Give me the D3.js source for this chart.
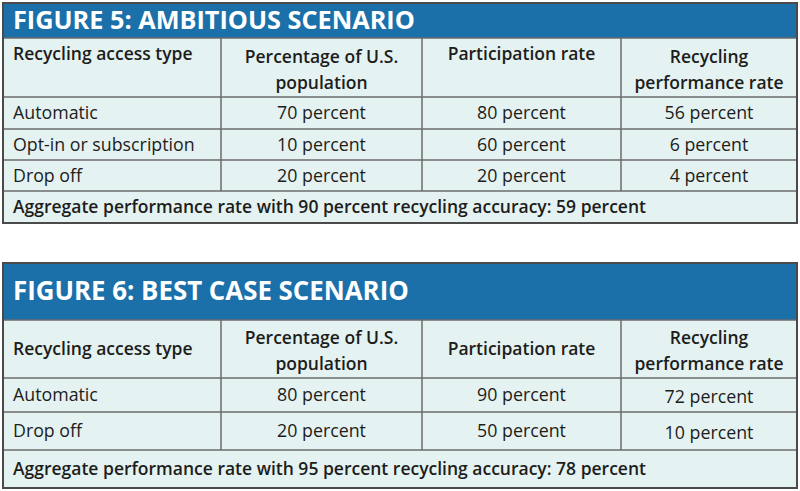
<!DOCTYPE html>
<html>
<head>
<meta charset="utf-8">
<script src="https://cdn.jsdelivr.net/npm/d3@7"></script>
<style>
  body { margin: 0; background: #fff; }
  svg { display: block; }
  text { font-family: "Open Sans", "DejaVu Sans", sans-serif; fill: #1d1d1b; }
</style>
</head>
<body>
<svg width="800" height="491"></svg>
<script>
// column headers (shared by both figures)
const headers = ['Recycling access type', 'Percentage of U.S.|population', 'Participation rate', 'Recycling|performance rate'];

// Figure 5
const fig5Title = 'FIGURE 5: AMBITIOUS SCENARIO';
const fig5Types = ['Automatic', 'Opt-in or subscription', 'Drop off'];
const fig5Population = [70, 10, 20];
const fig5Participation = [80, 60, 20];
const fig5Performance = [56, 6, 4];
const fig5Accuracy = 90;
const fig5Aggregate = 59;

// Figure 6
const fig6Title = 'FIGURE 6: BEST CASE SCENARIO';
const fig6Types = ['Automatic', 'Drop off'];
const fig6Population = [80, 20];
const fig6Participation = [90, 50];
const fig6Performance = [72, 10];
const fig6Accuracy = 95;
const fig6Aggregate = 78;

const BLUE = '#1b70aa';
const CELL = '#e4f2f2';
const LINE = '#6b6b6b';
const EDGE = '#4a4a4a';

const svg = d3.select('svg');
svg.append('rect').attr('width', 800).attr('height', 491).attr('fill', '#fff');

// column boundaries in px
const colEdges = [3, 221, 422, 621, 797];

function drawTable(opts) {
  const g = svg.append('g').attr('class', 'table');
  const x = (i) => colEdges[i];
  const cx = (i) => (colEdges[i] + colEdges[i + 1]) / 2;

  // row edges: title band, header, data rows, aggregate
  const y = d3.scaleOrdinal()
    .domain(d3.range(opts.rowEdges.length))
    .range(opts.rowEdges);
  const last = opts.rowEdges.length - 1;

  // cell background
  g.append('rect')
    .attr('x', x(0)).attr('y', y(1))
    .attr('width', x(4) - x(0)).attr('height', y(last) - y(1))
    .attr('fill', CELL);

  // title band
  g.append('rect')
    .attr('x', x(0)).attr('y', y(0))
    .attr('width', x(4) - x(0)).attr('height', y(1) - y(0))
    .attr('fill', BLUE);

  const title = g.append('text')
    .attr('x', 13)
    .attr('y', opts.titleBaseline)
    .style('fill', '#fff')
    .style('font-weight', 700)
    .style('font-size', '24px')
    .text(opts.title);
  // fit the title to the width seen in the picture
  const w = title.node().getComputedTextLength();
  title.style('font-size', (24 * opts.titleWidth / w) + 'px');

  // horizontal lines
  for (let r = 2; r < last; r++) {
    g.append('line')
      .attr('x1', x(0)).attr('x2', x(4))
      .attr('y1', y(r)).attr('y2', y(r))
      .attr('stroke', LINE).attr('stroke-width', 1.5);
  }
  // vertical lines (not through aggregate row)
  for (let c = 1; c < 4; c++) {
    g.append('line')
      .attr('x1', x(c)).attr('x2', x(c))
      .attr('y1', y(1)).attr('y2', y(last - 1))
      .attr('stroke', LINE).attr('stroke-width', 1.5);
  }
  // line under title band
  g.append('line')
    .attr('x1', x(0)).attr('x2', x(4))
    .attr('y1', y(1)).attr('y2', y(1))
    .attr('stroke', LINE).attr('stroke-width', 1.5);

  // outer border
  g.append('rect')
    .attr('x', x(0)).attr('y', y(0))
    .attr('width', x(4) - x(0)).attr('height', y(last) - y(0))
    .attr('fill', 'none')
    .attr('stroke', EDGE).attr('stroke-width', 2);

  // header texts
  headers.forEach((h, i) => {
    const lines = h.split('|');
    const mid = (y(1) + y(2)) / 2;
    let base;
    if (lines.length === 2) base = mid - 5;
    else base = opts.headerTop ? y(1) + 22 : mid + 6;
    lines.forEach((ln, k) => {
      g.append('text')
        .attr('x', i === 0 ? 13 : cx(i))
        .attr('y', base + k * 26)
        .attr('text-anchor', i === 0 ? 'start' : 'middle')
        .style('font-weight', 600)
        .style('font-size', '17.5px')
        .text(ln);
    });
  });

  // data rows
  opts.types.forEach((t, r) => {
    const base = (y(r + 2) + y(r + 3)) / 2 + 6;
    const vals = [t,
      opts.population[r] + ' percent',
      opts.participation[r] + ' percent',
      opts.performance[r] + ' percent'];
    vals.forEach((v, i) => {
      g.append('text')
        .attr('x', i === 0 ? 13 : cx(i))
        .attr('y', base + (i === 3 ? opts.lastColShift : 0))
        .attr('text-anchor', i === 0 ? 'start' : 'middle')
        .style('font-size', '17.8px')
        .text(v);
    });
  });

  // aggregate row
  g.append('text')
    .attr('x', 13)
    .attr('y', (y(last - 1) + y(last)) / 2 + 6)
    .style('font-weight', 600)
    .style('font-size', '17.5px')
    .text(`Aggregate performance rate with ${opts.accuracy} percent recycling accuracy: ${opts.aggregate} percent`);
}

drawTable({
  title: fig5Title, titleBaseline: 29, titleWidth: 402,
  rowEdges: [3, 38, 97, 129, 160, 191, 223],
  headerTop: true, lastColShift: 0,
  types: fig5Types, population: fig5Population,
  participation: fig5Participation, performance: fig5Performance,
  accuracy: fig5Accuracy, aggregate: fig5Aggregate
});

drawTable({
  title: fig6Title, titleBaseline: 300, titleWidth: 396,
  rowEdges: [263, 320, 378, 412, 450, 488],
  headerTop: false, lastColShift: 2,
  types: fig6Types, population: fig6Population,
  participation: fig6Participation, performance: fig6Performance,
  accuracy: fig6Accuracy, aggregate: fig6Aggregate
});
</script>
</body>
</html>
